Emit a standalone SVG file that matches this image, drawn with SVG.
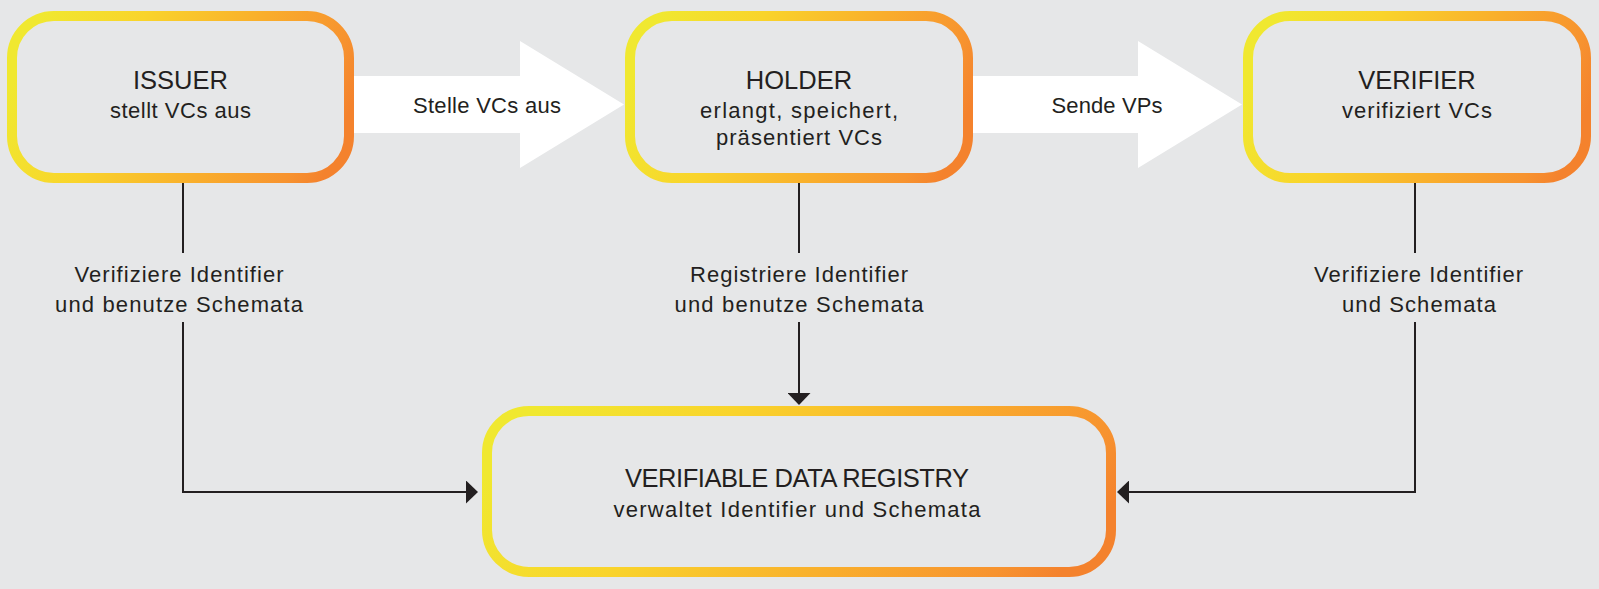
<svg xmlns="http://www.w3.org/2000/svg" width="1599" height="589" viewBox="0 0 1599 589">
<style>
.bg{fill:#e6e7e8}
.box{fill:#e6e7e8;stroke:url(#g);stroke-width:10}
.big{fill:#ffffff}
.t{font-family:"Liberation Sans",Arial,sans-serif;fill:#231f20;text-anchor:middle}
.h{font-size:25.5px}
.s{font-size:22px}
.ln{fill:none;stroke:#231f20;stroke-width:2}
</style>
<defs>
<linearGradient id="g" x1="0" y1="0.4" x2="1" y2="0.6">
<stop offset="0" stop-color="#f0e830"/>
<stop offset="0.3" stop-color="#f9d42b"/>
<stop offset="0.65" stop-color="#f9ad2c"/>
<stop offset="0.9" stop-color="#f7932f"/>
<stop offset="1" stop-color="#f4822d"/>
</linearGradient>
<marker id="ah" markerUnits="userSpaceOnUse" markerWidth="12" markerHeight="23" refX="0" refY="11.5" orient="auto" viewBox="0 0 12 23">
<path d="M0,0 L12,11.5 L0,23 Z" fill="#231f20"/>
</marker>
</defs>
<rect class="bg" x="0" y="0" width="1599" height="589"/>

<g id="flows">
<polygon class="big" points="349,76 520,76 520,41 624,104.5 520,168 520,133 349,133"/>
<polygon class="big" points="968,76 1138,76 1138,41 1242,104.5 1138,168 1138,133 968,133"/>
<text class="t s" x="487" y="113" textLength="148" lengthAdjust="spacing">Stelle VCs aus</text>
<text class="t s" x="1107" y="113" textLength="111" lengthAdjust="spacing">Sende VPs</text>
</g>

<g id="connectors">
<path class="ln" d="M183,180 V253"/>
<path class="ln" d="M183,322 V492 H466" marker-end="url(#ah)"/>
<path class="ln" d="M799,180 V253"/>
<path class="ln" d="M799,322 V393" marker-end="url(#ah)"/>
<path class="ln" d="M1415,180 V253"/>
<path class="ln" d="M1415,322 V492 H1129" marker-end="url(#ah)"/>
<text class="t s" x="179" y="282" textLength="209" lengthAdjust="spacing">Verifiziere Identifier</text>
<text class="t s" x="179" y="312" textLength="248" lengthAdjust="spacing">und benutze Schemata</text>
<text class="t s" x="799" y="282" textLength="218" lengthAdjust="spacing">Registriere Identifier</text>
<text class="t s" x="799" y="312" textLength="249" lengthAdjust="spacing">und benutze Schemata</text>
<text class="t s" x="1418.5" y="282" textLength="209" lengthAdjust="spacing">Verifiziere Identifier</text>
<text class="t s" x="1419" y="312" textLength="154" lengthAdjust="spacing">und Schemata</text>
</g>

<g id="issuer">
<rect class="box" x="12" y="16" width="337" height="162" rx="42"/>
<text class="t h" x="180.5" y="89">ISSUER</text>
<text class="t s" x="180.5" y="118" textLength="141" lengthAdjust="spacing">stellt VCs aus</text>
</g>

<g id="holder">
<rect class="box" x="630" y="16" width="338" height="162" rx="42"/>
<text class="t h" x="799" y="89">HOLDER</text>
<text class="t s" x="799" y="118" textLength="198" lengthAdjust="spacing">erlangt, speichert,</text>
<text class="t s" x="799" y="145" textLength="166" lengthAdjust="spacing">präsentiert VCs</text>
</g>

<g id="verifier">
<rect class="box" x="1248" y="16" width="338" height="162" rx="42"/>
<text class="t h" x="1417" y="89">VERIFIER</text>
<text class="t s" x="1417" y="118" textLength="150" lengthAdjust="spacing">verifiziert VCs</text>
</g>

<g id="registry">
<rect class="box" x="487" y="411" width="624" height="161" rx="42"/>
<text class="t h" x="797" y="487" textLength="344" lengthAdjust="spacing">VERIFIABLE DATA REGISTRY</text>
<text class="t s" x="797" y="517" textLength="367" lengthAdjust="spacing">verwaltet Identifier und Schemata</text>
</g>
</svg>
